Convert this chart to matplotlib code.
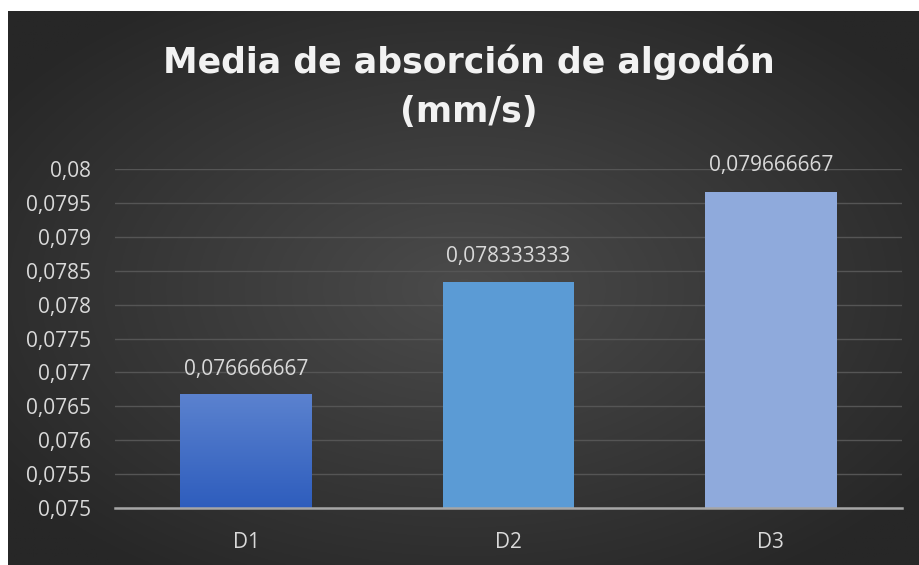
import numpy as np
import matplotlib
matplotlib.use("Agg")
import matplotlib.pyplot as plt
from matplotlib.colors import LinearSegmentedColormap

categories = ["D1", "D2", "D3"]
values = [0.076666667, 0.078333333, 0.079666667]
bar_labels = ["0,076666667", "0,078333333", "0,079666667"]
yticks = [0.075, 0.0755, 0.076, 0.0765, 0.077, 0.0775, 0.078, 0.0785, 0.079, 0.0795, 0.08]
title = "Media de absorción de algodón\n(mm/s)"

W, H = 919, 565
fig = plt.figure(figsize=(W / 100, H / 100), dpi=100)
fig.patch.set_facecolor("white")

# background panel with radial gradient
bg = fig.add_axes([8 / W, 0, (W - 8) / W, (H - 11) / H])
bg.set_axis_off()
ny, nx = 300, 500
yy, xx = np.mgrid[0:ny, 0:nx]
cx, cy = nx * 0.5, ny * 0.5
r = np.sqrt(((xx - cx) / (nx * 0.62)) ** 2 + ((yy - cy) / (ny * 0.62)) ** 2)
r = np.clip(r, 0, 1)
c_in = np.array([0x4b, 0x4b, 0x4b]) / 255
c_out = np.array([0x27, 0x27, 0x27]) / 255
img = c_in[None, None, :] * (1 - r[..., None]) + c_out[None, None, :] * r[..., None]
bg.imshow(img, aspect="auto", extent=[0, 1, 0, 1])
bg.set_xlim(0, 1)
bg.set_ylim(0, 1)

ax = fig.add_axes([115 / W, (H - 508) / H, 787 / W, (508 - 169) / H])
ax.patch.set_alpha(0)
x = np.arange(len(categories))
colors = ["#4472c4", "#5b9bd5", "#8faadc"]
bars = ax.bar(x, [v - 0.075 for v in values], bottom=0.075, width=0.503, color=colors, zorder=3)

# gradient on first bar
b0 = bars[0]
b0.set_facecolor("none")
grad = np.linspace(0, 1, 256).reshape(-1, 1)
cmap = LinearSegmentedColormap.from_list("g", ["#2e5dbd", "#5b82cf"])
gx0 = b0.get_x()
ax.imshow(grad, extent=[gx0, gx0 + b0.get_width(), 0.075, values[0]], aspect="auto",
          cmap=cmap, origin="lower", zorder=3)

ax.set_xlim(-0.5, 2.5)
ax.set_ylim(0.075, 0.08)
ax.set_yticks(yticks)
ax.set_yticklabels([("%.4f" % v).rstrip("0").replace(".", ",") for v in yticks])
ax.set_xticks(x)
ax.set_xticklabels(categories)
ax.grid(axis="y", color="#555555", linewidth=1.0, zorder=0)
ax.set_axisbelow(True)
for s in ["top", "right", "left"]:
    ax.spines[s].set_visible(False)
ax.spines["bottom"].set_color("#a6a6a6")
ax.spines["bottom"].set_linewidth(1.8)
ax.spines["bottom"].set_zorder(4)
ax.tick_params(axis="both", length=0, colors="#d9d9d9", labelsize=15)
ax.tick_params(axis="y", pad=17)
ax.tick_params(axis="x", pad=17)
for lab in ax.get_yticklabels() + ax.get_xticklabels():
    lab.set_fontfamily("Open Sans")

for xi, v, t in zip(x, values, bar_labels):
    ax.annotate(t, (xi, v), xytext=(0, 11), textcoords="offset points", ha="center", va="bottom",
                color="#d9d9d9", fontsize=15, fontfamily="Open Sans")

lines = title.split("\n")
fig.text(469 / W, 1 - 62 / H, lines[0], ha="center", va="center", color="#f2f2f2",
         fontsize=25, fontweight="bold", fontfamily="DejaVu Sans")
fig.text(469 / W, 1 - 112 / H, lines[1], ha="center", va="center", color="#f2f2f2",
         fontsize=25, fontweight="bold", fontfamily="DejaVu Sans")

fig.savefig("out.png", dpi=100, facecolor=fig.get_facecolor())
